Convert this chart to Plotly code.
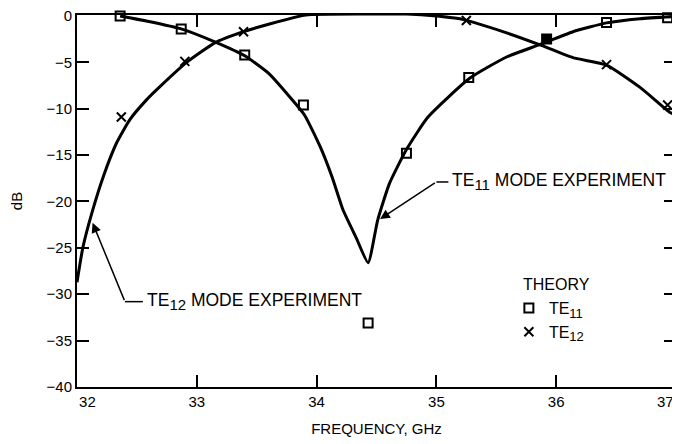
import plotly.graph_objects as go

# Theory points
te11_theory_f = [32.36, 32.87, 33.40, 33.89, 34.43, 34.75, 35.27, 35.92, 36.42, 36.93]
te11_theory_db = [0.0, -1.4, -4.2, -9.6, -33.1, -14.8, -6.65, -2.5, -0.7, -0.2]
te12_theory_f = [32.37, 32.90, 33.39, 34.41, 34.74, 35.25, 36.42, 36.93]
te12_theory_db = [-10.9, -4.9, -1.7, 0.2, 0.2, -0.5, -5.25, -9.6]

# Experiment curves
te11_exp_f = [32.36, 32.6, 32.87, 33.15, 33.4, 33.6, 33.78, 33.9, 34.03, 34.13, 34.22, 34.33, 34.43,
              34.51, 34.61, 34.75, 34.93, 35.28, 35.59, 35.86, 36.14, 36.42, 36.7, 37.0]
te11_exp_db = [0.0, -0.6, -1.4, -2.8, -4.3, -6.2, -8.8, -10.7, -14.1, -17.4, -20.9, -23.9, -26.6,
               -22.0, -18.0, -14.4, -10.9, -6.7, -4.4, -3.1, -1.7, -0.75, -0.3, -0.05]
te12_exp_f = [32.0, 32.05, 32.125, 32.22, 32.33, 32.44, 32.58, 32.69, 32.92, 33.15, 33.39, 33.6,
              33.91, 34.4, 34.75, 35.0, 35.13, 35.23, 35.58, 35.86, 36.14, 36.42, 36.7, 36.95, 37.0]
te12_exp_db = [-28.7, -24.9, -21.2, -17.3, -13.7, -11.2, -9.05, -7.65, -4.96, -2.9, -1.7, -0.9,
               0.1, 0.2, 0.2, 0.0, -0.2, -0.4, -1.8, -3.1, -4.5, -5.3, -7.7, -10.4, -10.7]

x_ticks = [32, 33, 34, 35, 36, 37]
x_tick_labels = ["32", "33", "34", "35", "36", "37"]
y_ticks = [0, -5, -10, -15, -20, -25, -30, -35, -40]

FONT = "Liberation Sans, Arial, Helvetica, sans-serif"
NB = "\u00a0"

# first label nudged inward like the original drawing; last one drawn as a right-anchored note
x_text = list(x_tick_labels)
x_text[0] = NB * 5 + x_text[0]
x_text[-1] = ""

fig = go.Figure()
fig.add_trace(go.Scatter(x=te11_exp_f, y=te11_exp_db, mode="lines",
                         line=dict(color="black", width=3, shape="spline", smoothing=0.5),
                         showlegend=False, cliponaxis=False, hoverinfo="skip"))
fig.add_trace(go.Scatter(x=te12_exp_f, y=te12_exp_db, mode="lines",
                         line=dict(color="black", width=3, shape="spline", smoothing=0.5),
                         showlegend=False, cliponaxis=False, hoverinfo="skip"))

te11_symbols = ["square" if (f, d) == (35.92, -2.5) else "square-open"
                for f, d in zip(te11_theory_f, te11_theory_db)]
fig.add_trace(go.Scatter(x=te11_theory_f, y=te11_theory_db, mode="markers",
                         name="TE<sub><span style='font-size:13px'>11</span></sub>",
                         cliponaxis=False,
                         marker=dict(symbol=te11_symbols, size=9, color="black",
                                     line=dict(color="black", width=2))))
fig.add_trace(go.Scatter(x=te12_theory_f, y=te12_theory_db, mode="markers",
                         name="TE<sub><span style='font-size:13px'>12</span></sub>",
                         cliponaxis=False,
                         marker=dict(symbol="x-thin-open", size=9, color="black",
                                     line=dict(color="black", width=2))))

# last x tick label
fig.add_annotation(x=x_ticks[-1], y=0, xref="x", yref="paper", text=x_tick_labels[-1],
                   showarrow=False, xanchor="right", yanchor="middle", yshift=-14,
                   font=dict(family=FONT, size=15, color="black"))

# Leader lines and labels
fig.add_annotation(x=34.53, y=-21.9, ax=35.0, ay=-17.9, axref="x", ayref="y",
                   text="", showarrow=True, arrowhead=2, arrowsize=1.3, arrowwidth=1.5,
                   arrowcolor="black")
fig.add_shape(type="line", x0=35.0, y0=-17.9, x1=35.1, y1=-17.9,
              line=dict(color="black", width=1.5))
fig.add_annotation(x=35.11, y=-17.9, text="TE<sub><span style='font-size:15px'>11</span></sub> MODE EXPERIMENT",
                   showarrow=False, xanchor="left", yanchor="middle",
                   font=dict(family=FONT, size=17.5, color="black"))

fig.add_annotation(x=32.13, y=-22.3, ax=32.40, ay=-30.8, axref="x", ayref="y",
                   text="", showarrow=True, arrowhead=2, arrowsize=1.3, arrowwidth=1.5,
                   arrowcolor="black")
fig.add_shape(type="line", x0=32.40, y0=-30.8, x1=32.55, y1=-30.8,
              line=dict(color="black", width=1.5))
fig.add_annotation(x=32.57, y=-30.8, text="TE<sub><span style='font-size:15px'>12</span></sub> MODE EXPERIMENT",
                   showarrow=False, xanchor="left", yanchor="middle",
                   font=dict(family=FONT, size=17.5, color="black"))

fig.add_annotation(x=35.71, y=-28.9, text="THEORY", showarrow=False,
                   xanchor="left", yanchor="middle",
                   font=dict(family=FONT, size=16, color="black"))

# page body adds an 8px offset; figure sized so the plot lands where the original's does
fig.update_layout(
    width=672, height=436,
    margin=dict(l=69, r=4, t=7, b=57, autoexpand=False),
    paper_bgcolor="white", plot_bgcolor="white",
    font=dict(family=FONT, size=15, color="black"),
    legend=dict(x=0.721, y=0.258, xanchor="left", yanchor="top",
                bgcolor="rgba(0,0,0,0)", font=dict(size=16),
                itemwidth=30, tracegroupgap=0),
)
fig.update_xaxes(range=[32, 37], tickvals=x_ticks, ticktext=x_text, showgrid=False, zeroline=False,
                 showline=True, linecolor="black", linewidth=2, mirror="ticks",
                 ticks="inside", ticklen=12, tickwidth=1.5, tickcolor="black",
                 ticklabeloverflow="allow", automargin=False,
                 title=dict(text="FREQUENCY, GHz", font=dict(size=15), standoff=14))
fig.update_yaxes(range=[-40, 0.1], tickvals=y_ticks, showgrid=False, zeroline=False,
                 showline=True, linecolor="black", linewidth=2, mirror="ticks",
                 ticks="inside", ticklen=12, tickwidth=1.5, tickcolor="black",
                 ticklabeloverflow="allow", automargin=False,
                 title=dict(text="dB", font=dict(size=15), standoff=22))

fig.write_html("out.html")
